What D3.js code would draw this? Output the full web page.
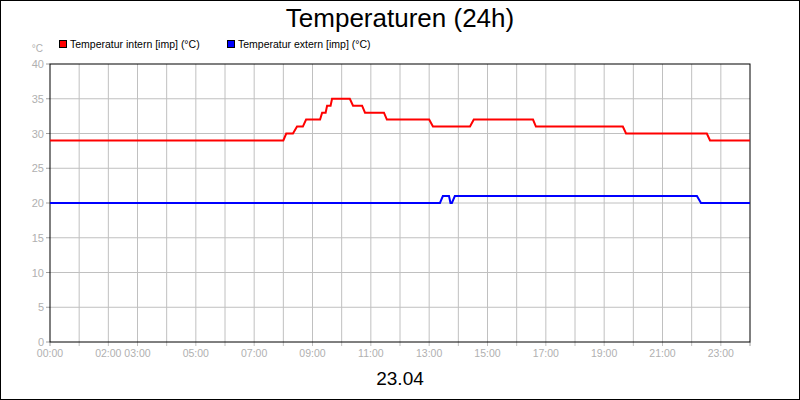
<!DOCTYPE html>
<html><head><meta charset="utf-8">
<script src="https://cdn.jsdelivr.net/npm/d3@7"></script>
<style>body{margin:0}svg{display:block;font-family:"Liberation Sans",Arial,sans-serif}</style>
</head><body><svg width="800" height="400"></svg>
<script>
const yTicks=[0,5,10,15,20,25,30,35,40];
const xTickPos=[0,2,3,5,7,9,11,13,15,17,19,21,23];
const xTickLabels=["00:00","02:00","03:00","05:00","07:00","09:00","11:00","13:00","15:00","17:00","19:00","21:00","23:00"];
const internHours=[0,8.0,8.1,8.33,8.47,8.67,8.78,9.26,9.33,9.45,9.5,9.62,9.67,10.28,10.39,10.7,10.8,11.45,11.55,13.0,13.13,14.4,14.53,16.56,16.66,19.64,19.75,22.52,22.63,24];
const internVals=[29,29,30,30,31,31,32,32,33,33,34,34,35,35,34,34,33,33,32,32,31,31,32,32,31,31,30,30,29,29];
const externHours=[0,13.37,13.47,13.68,13.73,13.78,13.88,22.18,22.32,24];
const externVals=[20,20,21,21,20,20,21,21,20,20];

const svg=d3.select("svg");
svg.append("rect").attr("x",0.5).attr("y",0.5).attr("width",799).attr("height",399).attr("fill","#fff").attr("stroke","#000");
const L=50,R=750,T=64,B=342;
const x=d3.scaleLinear().domain([0,24]).range([L,R]);
const y=d3.scaleLinear().domain([0,40]).range([B,T]);
const g=svg.append("g");
g.selectAll(".vg").data(d3.range(1,24)).join("line").attr("x1",d=>x(d)).attr("x2",d=>x(d)).attr("y1",T).attr("y2",B+4).attr("stroke","#c0c0c0");
g.selectAll(".hg").data(yTicks.slice(1,-1)).join("line").attr("x1",L).attr("x2",R).attr("y1",d=>y(d)).attr("y2",d=>y(d)).attr("stroke","#c0c0c0");
g.selectAll(".yt").data(yTicks).join("line").attr("x1",L-4).attr("x2",L).attr("y1",d=>y(d)).attr("y2",d=>y(d)).attr("stroke","#a0a0a0");
g.selectAll(".yl").data(yTicks).join("text").attr("x",L-6).attr("y",d=>y(d)+4).attr("text-anchor","end").attr("font-size",11).attr("fill","#b0b0b0").text(d=>d);
g.append("text").attr("x",43).attr("y",52).attr("text-anchor","end").attr("font-size",10).attr("fill","#b0b0b0").text("°C");
g.selectAll(".xt").data([0,24]).join("line").attr("x1",d=>x(d)).attr("x2",d=>x(d)).attr("y1",B).attr("y2",B+4).attr("stroke","#a0a0a0");
g.selectAll(".xl").data(xTickPos).join("text").attr("x",d=>x(d)).attr("y",B+15).attr("text-anchor","middle").attr("font-size",10.5).attr("fill","#b0b0b0").text((d,i)=>xTickLabels[i]);
g.append("rect").attr("x",L).attr("y",T).attr("width",R-L).attr("height",B-T).attr("fill","none").attr("stroke","#000");
const line=d3.line().x(d=>x(d[0])).y(d=>y(d[1]));
g.append("path").datum(internHours.map((h,i)=>[h,internVals[i]])).attr("d",line).attr("fill","none").attr("stroke","#ff0000").attr("stroke-width",2);
g.append("path").datum(externHours.map((h,i)=>[h,externVals[i]])).attr("d",line).attr("fill","none").attr("stroke","#0000ff").attr("stroke-width",2);
svg.append("text").attr("x",400).attr("y",27).attr("text-anchor","middle").attr("font-size",26).text("Temperaturen (24h)");
svg.append("text").attr("x",400).attr("y",385).attr("text-anchor","middle").attr("font-size",19).text("23.04");
const leg=[["Temperatur intern [imp] (°C)","#ff0000",59],["Temperatur extern [imp] (°C)","#0000ff",227]];
leg.forEach(([t,c,lx])=>{
 svg.append("rect").attr("x",lx+0.5).attr("y",40.5).attr("width",7).attr("height",7).attr("fill",c).attr("stroke","#000");
 svg.append("text").attr("x",lx+11).attr("y",48).attr("font-size",10.5).text(t);
});
</script></body></html>
